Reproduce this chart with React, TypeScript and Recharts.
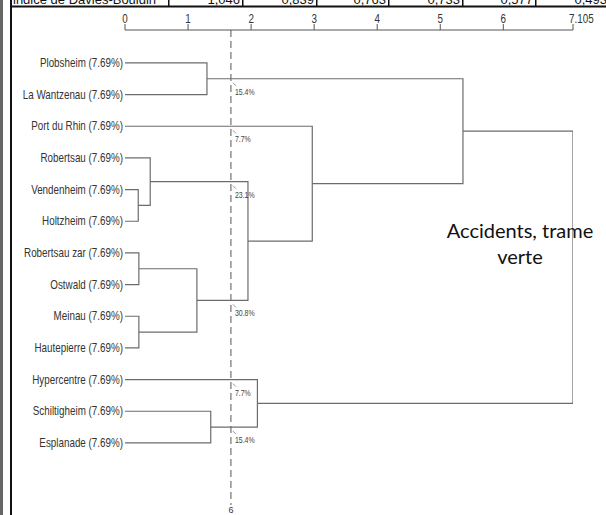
import React from 'react';
import { ScatterChart, Scatter, XAxis, YAxis, ReferenceLine } from 'recharts';

const leafNames = [
  'Plobsheim (7.69%)',
  'La Wantzenau (7.69%)',
  'Port du Rhin (7.69%)',
  'Robertsau (7.69%)',
  'Vendenheim (7.69%)',
  'Holtzheim (7.69%)',
  'Robertsau zar (7.69%)',
  'Ostwald (7.69%)',
  'Meinau (7.69%)',
  'Hautepierre (7.69%)',
  'Hypercentre (7.69%)',
  'Schiltigheim (7.69%)',
  'Esplanade (7.69%)',
];

const axisTicks = [0, 1, 2, 3, 4, 5, 6, 7.105];

// agglomeration steps: node ids 0..12 are leaves, merge k creates node 13+k
const mergeLeft = [4, 6, 8, 3, 14, 0, 11, 16, 10, 2, 18, 23];
const mergeRight = [5, 7, 9, 13, 15, 1, 12, 17, 19, 20, 22, 21];
const mergeHeight = [0.21, 0.22, 0.22, 0.4, 1.14, 1.3, 1.36, 1.95, 2.1, 2.97, 5.36, 7.105];

const cutLevel = 1.68;
const cutNodes = [18, 2, 16, 17, 10, 19];
const cutLabels = ['15.4%', '7.7%', '23.1%', '30.8%', '7.7%', '15.4%'];
const cutCount = '6';

const dbHeader = 'indice de Davies-Bouldin';
const dbValues = ['1,046', '0,839', '0,763', '0,733', '0,577', '0,493'];

const SANS = "'Liberation Sans', Arial, sans-serif";
const LINE = '#6c6c6c';

// build node layout from the merge table
const nodeX: number[] = leafNames.map(() => 0);
const nodeY: number[] = leafNames.map((_, i) => i);
const segments: { x: number; y: number }[][] = [];
mergeHeight.forEach((h, k) => {
  const a = mergeLeft[k];
  const b = mergeRight[k];
  segments.push([
    { x: nodeX[a], y: nodeY[a] },
    { x: h, y: nodeY[a] },
    { x: h, y: nodeY[b] },
    { x: nodeX[b], y: nodeY[b] },
  ]);
  nodeX.push(h);
  nodeY.push((nodeY[a] + nodeY[b]) / 2);
});

const cutPoints = cutNodes.map((n, i) => ({ x: cutLevel, y: nodeY[n], label: cutLabels[i] }));
const leafIdx = leafNames.map((_, i) => i);

// condensed text (Arial Narrow look) by squeezing a regular sans horizontally
const Narrow = ({ x, y, size, anchor, fill, children }: any) => (
  <text
    transform={`translate(${x},${y}) scale(0.82,1)`}
    x={0}
    y={0}
    textAnchor={anchor || 'start'}
    fontSize={size}
    fill={fill || '#333'}
    fontFamily={SANS}
  >
    {children}
  </text>
);

const NoShape = () => <g />;

const CutLabel = (props: any) => {
  const { cx, cy, payload } = props;
  return (
    <g>
      <line x1={cx + 2} y1={cy + 4} x2={cx + 5} y2={cy + 7} stroke="#777" strokeWidth={0.8} />
      <Narrow x={cx + 4} y={cy + 16} size={8.5} fill="#444">
        {payload.label}
      </Narrow>
    </g>
  );
};

const XTick = (props: any) => {
  const { x, y, payload, index } = props;
  const last = index === axisTicks.length - 1;
  return (
    <Narrow x={last ? x - 4 : x} y={y + 1} size={12} anchor={last ? 'start' : 'middle'}>
      {String(payload.value)}
    </Narrow>
  );
};

const YTick = (props: any) => {
  const { x, y, payload } = props;
  return (
    <Narrow x={x} y={y + 4} size={12} anchor="end">
      {leafNames[payload.value]}
    </Narrow>
  );
};

const cellEdges = [168, 242, 316, 388, 462, 535, 609];

export default function App() {
  return (
    <div style={{ position: 'absolute', left: 0, top: 0, width: 606, height: 515, background: '#fff' }}>
      <ScatterChart width={606} height={515} margin={{ top: 0, right: 33, bottom: 10, left: 0 }}>
        <XAxis
          type="number"
          dataKey="x"
          orientation="top"
          domain={[0, 7.105]}
          ticks={axisTicks}
          interval={0}
          height={30}
          allowDataOverflow
          tick={<XTick />}
          tickSize={6}
          tickMargin={2}
          tickLine={{ stroke: '#555' }}
          axisLine={{ stroke: '#555' }}
        />
        <YAxis
          type="number"
          dataKey="y"
          domain={[-1.04, 13.96]}
          reversed
          allowDataOverflow
          ticks={leafIdx}
          interval={0}
          width={125}
          axisLine={false}
          tickLine={false}
          tickSize={0}
          tickMargin={2}
          tick={<YTick />}
        />
        <ReferenceLine
          x={cutLevel}
          stroke="#555"
          strokeDasharray="7 4"
          label={{ value: cutCount, position: 'bottom', offset: 2, fontSize: 9, fill: '#333', fontFamily: SANS }}
        />
        {segments.map((pts, i) => (
          <Scatter
            key={i}
            data={pts}
            line={{ stroke: LINE, strokeWidth: 1.2 }}
            shape={<NoShape />}
            isAnimationActive={false}
          />
        ))}
        <Scatter data={cutPoints} shape={<CutLabel />} isAnimationActive={false} />
      </ScatterChart>
      <svg
        width={606}
        height={515}
        style={{ position: 'absolute', left: 0, top: 0, pointerEvents: 'none' }}
      >
        <rect x={0} y={0} width={3} height={515} fill="#666" />
        <rect x={10} y={0} width={2} height={515} fill="#111" />
        <rect x={10} y={5.5} width={596} height={2} fill="#111" />
        {cellEdges.map((e, i) => (
          <rect key={'d' + i} x={e} y={0} width={1.5} height={6} fill="#111" />
        ))}
        <text x={13} y={4} fontSize={13} fill="#111" fontFamily={SANS}>
          {dbHeader}
        </text>
        {dbValues.map((v, i) => (
          <text
            key={'v' + i}
            x={cellEdges[i + 1] - 2}
            y={4}
            textAnchor="end"
            fontSize={13}
            fill="#111"
            fontFamily={SANS}
          >
            {v}
          </text>
        ))}
        <text x={520} y={238} textAnchor="middle" fontSize={20} fill="#111" fontFamily="Lato, 'Open Sans', sans-serif">
          Accidents, trame
        </text>
        <text x={520} y={264} textAnchor="middle" fontSize={20} fill="#111" fontFamily="Lato, 'Open Sans', sans-serif">
          verte
        </text>
      </svg>
    </div>
  );
}
